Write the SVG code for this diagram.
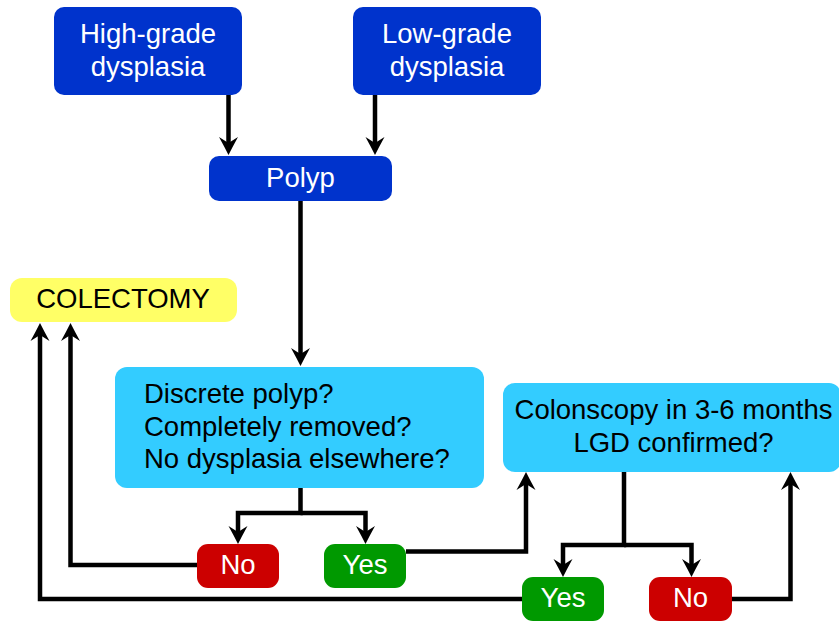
<svg xmlns="http://www.w3.org/2000/svg" width="839" height="621" viewBox="0 0 839 621">
<style>
.t{font-family:"Liberation Sans",Arial,sans-serif;font-size:27.5px}
.w{fill:#ffffff}
.k{fill:#000000}
.c{text-anchor:middle}
.blue{fill:#0033cc}
.lb{fill:#33ccff}
.yel{fill:#ffff66}
.red{fill:#cc0000}
.grn{fill:#009900}
.conn path{fill:none;stroke:#000;stroke-width:4.5;stroke-linejoin:miter;marker-end:url(#ah)}
</style>
<defs>
<marker id="ah" markerUnits="userSpaceOnUse" markerWidth="40" markerHeight="40" refX="0" refY="0" orient="auto" overflow="visible" viewBox="-20 -20 40 40">
<path d="M10,0 Q2,-4 -8,-9.5 L-2,0 L-8,9.5 Q2,4 10,0 Z" fill="#000"/>
</marker>
</defs>
<rect width="839" height="621" fill="#ffffff"/>
<g id="connectors" class="conn">
<path d="M228.5,95 V145"/>
<path d="M375,95 V145"/>
<path d="M300.5,201 V356"/>
<path d="M300.5,488 V513 H238 V534"/>
<path d="M300.5,513 H365.5 V534"/>
<path d="M197,565 H70.5 V333"/>
<path d="M406,551.5 H526 V482"/>
<path d="M624,472 V545 H563 V567"/>
<path d="M624,545 H691.5 V567"/>
<path d="M522,599 H40 V333"/>
<path d="M732,599 H790.5 V482"/>
</g>
<g id="high-grade">
<rect class="blue" x="54" y="7" width="188" height="88" rx="10"/>
<text class="t w c" x="148" y="43">High-grade</text>
<text class="t w c" x="148" y="76">dysplasia</text>
</g>
<g id="low-grade">
<rect class="blue" x="353" y="7" width="188" height="88" rx="10"/>
<text class="t w c" x="447" y="43">Low-grade</text>
<text class="t w c" x="447" y="76">dysplasia</text>
</g>
<g id="polyp">
<rect class="blue" x="209" y="156" width="183" height="45" rx="10"/>
<text class="t w c" x="300.5" y="187">Polyp</text>
</g>
<g id="colectomy">
<rect class="yel" x="10" y="278" width="227" height="44" rx="12"/>
<text class="t k c" x="123" y="308">COLECTOMY</text>
</g>
<g id="discrete">
<rect class="lb" x="115" y="367" width="369" height="121" rx="12"/>
<text class="t k" x="144" y="403">Discrete polyp?</text>
<text class="t k" x="144" y="436">Completely removed?</text>
<text class="t k" x="144" y="468">No dysplasia elsewhere?</text>
</g>
<g id="colonoscopy">
<rect class="lb" x="503" y="383" width="338" height="89" rx="12"/>
<text class="t k c" x="673.5" y="419">Colonscopy in 3-6 months</text>
<text class="t k c" x="673.5" y="452">LGD confirmed?</text>
</g>
<g id="no1">
<rect class="red" x="197" y="544" width="82" height="44" rx="11"/>
<text class="t w c" x="238" y="574">No</text>
</g>
<g id="yes1">
<rect class="grn" x="324" y="544" width="82" height="44" rx="11"/>
<text class="t w c" x="365" y="574">Yes</text>
</g>
<g id="yes2">
<rect class="grn" x="522" y="577" width="82" height="44" rx="11"/>
<text class="t w c" x="563" y="607">Yes</text>
</g>
<g id="no2">
<rect class="red" x="649" y="577" width="83" height="44" rx="11"/>
<text class="t w c" x="690.5" y="607">No</text>
</g>
</svg>
